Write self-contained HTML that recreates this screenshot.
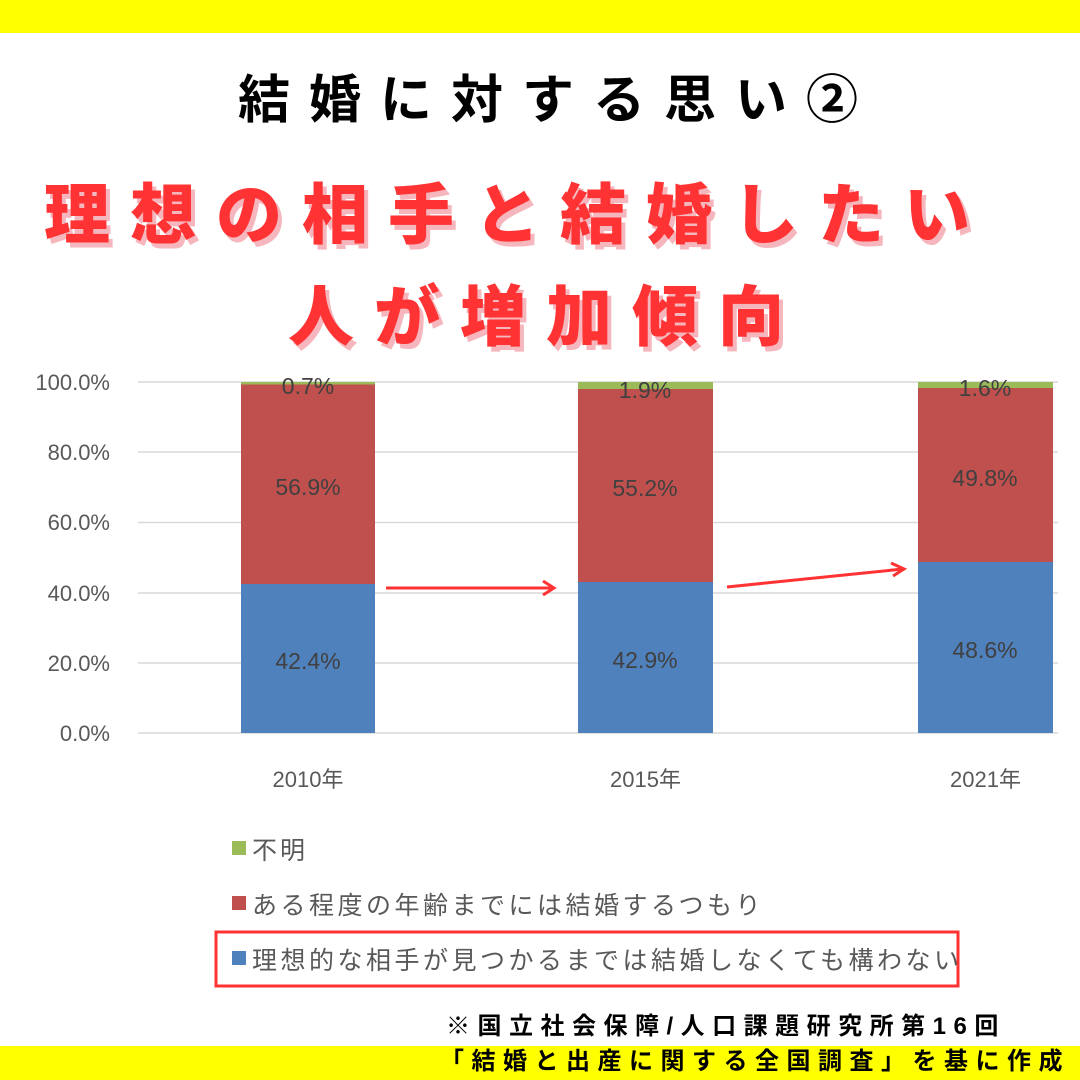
<!DOCTYPE html>
<html><head><meta charset="utf-8"><style>
body{margin:0;width:1080px;height:1080px;background:#fff;position:relative;overflow:hidden;font-family:"Liberation Sans","Noto Sans CJK JP",sans-serif}
.a{position:absolute;white-space:nowrap}
.red{color:#ff3333;font-weight:900;text-shadow:4px 5px 0 #f6b6bd;letter-spacing:20px}
.t{font-size:22px;color:#595959}
.lab{font-size:23px;color:#404040;width:134px;text-align:center}
</style></head><body>
<div class="a" style="left:0;top:0;width:1080px;height:33px;background:#ffff00"></div>
<div class="a" style="left:0;top:1046px;width:1080px;height:34px;background:#ffff00"></div>
<div class="a" style="left:238px;top:58px;font-size:52px;font-weight:700;letter-spacing:19px;color:#000">結婚に対する思い②</div>
<div class="a red" style="left:44px;top:162px;font-size:66px">理想の相手と結婚したい</div>
<div class="a red" style="left:288px;top:264px;font-size:66px">人が増加傾向</div>
<svg class="a" style="left:0;top:0" width="1080" height="1080">
<g stroke="#d9d9d9" stroke-width="1.5">
<line x1="138" x2="1058" y1="382" y2="382"/><line x1="138" x2="1058" y1="452" y2="452"/><line x1="138" x2="1058" y1="522.5" y2="522.5"/><line x1="138" x2="1058" y1="593" y2="593"/><line x1="138" x2="1058" y1="663" y2="663"/><line x1="138" x2="1058" y1="733" y2="733"/></g>
<rect x="241" y="584" width="134" height="149" fill="#4f81bd"/><rect x="241" y="384.5" width="134" height="199.5" fill="#c0504d"/><rect x="241" y="382" width="134" height="2.5" fill="#9bbb59"/>
<rect x="578" y="582" width="135" height="151" fill="#4f81bd"/><rect x="578" y="389" width="135" height="193" fill="#c0504d"/><rect x="578" y="382" width="135" height="7" fill="#9bbb59"/>
<rect x="918" y="562" width="135" height="171" fill="#4f81bd"/><rect x="918" y="388" width="135" height="174" fill="#c0504d"/><rect x="918" y="382" width="135" height="6" fill="#9bbb59"/>
<g stroke="#ff3333" stroke-width="3" fill="none"><line x1="386" y1="588" x2="553" y2="588"/><polyline points="543,581 554,588 543,595"/><line x1="727" y1="587" x2="903" y2="569"/><polyline points="891,563 904,569 893,576"/></g>
<rect x="216" y="932" width="742" height="54" fill="none" stroke="#ff3333" stroke-width="3"/>
</svg>
<div class="a t" style="left:0;width:110px;text-align:right;top:370px">100.0%</div>
<div class="a t" style="left:0;width:110px;text-align:right;top:440px">80.0%</div>
<div class="a t" style="left:0;width:110px;text-align:right;top:510px">60.0%</div>
<div class="a t" style="left:0;width:110px;text-align:right;top:581px">40.0%</div>
<div class="a t" style="left:0;width:110px;text-align:right;top:651px">20.0%</div>
<div class="a t" style="left:0;width:110px;text-align:right;top:721px">0.0%</div>
<div class="a t" style="left:241px;width:134px;text-align:center;top:762px">2010年</div>
<div class="a t" style="left:578px;width:135px;text-align:center;top:762px">2015年</div>
<div class="a t" style="left:918px;width:135px;text-align:center;top:762px">2021年</div>
<div class="a lab" style="left:241px;top:373px">0.7%</div>
<div class="a lab" style="left:241px;top:474px">56.9%</div>
<div class="a lab" style="left:241px;top:648px">42.4%</div>
<div class="a lab" style="left:578px;top:377px">1.9%</div>
<div class="a lab" style="left:578px;top:475px">55.2%</div>
<div class="a lab" style="left:578px;top:647px">42.9%</div>
<div class="a lab" style="left:918px;top:375px">1.6%</div>
<div class="a lab" style="left:918px;top:465px">49.8%</div>
<div class="a lab" style="left:918px;top:637px">48.6%</div>
<div class="a" style="left:232px;top:841px;width:14px;height:14px;background:#9bbb59"></div>
<div class="a" style="left:232px;top:896px;width:14px;height:14px;background:#c0504d"></div>
<div class="a" style="left:232px;top:951px;width:14px;height:14px;background:#4f81bd"></div>
<div class="a" style="left:252px;top:831px;font-size:25px;color:#595959;letter-spacing:3px">不明</div>
<div class="a" style="left:252px;top:886px;font-size:25px;color:#595959;letter-spacing:3.5px">ある程度の年齢までには結婚するつもり</div>
<div class="a" style="left:252px;top:941px;font-size:25px;color:#595959;letter-spacing:3.5px">理想的な相手が見つかるまでは結婚しなくても構わない</div>
<div class="a" style="left:446px;top:1006px;font-size:24px;font-weight:700;letter-spacing:7.5px;color:#000">※国立社会保障/人口課題研究所第16回</div>
<div class="a" style="left:440px;top:1041px;font-size:24px;font-weight:700;letter-spacing:7.5px;color:#000">「結婚と出産に関する全国調査」を基に作成</div>
</body></html>
